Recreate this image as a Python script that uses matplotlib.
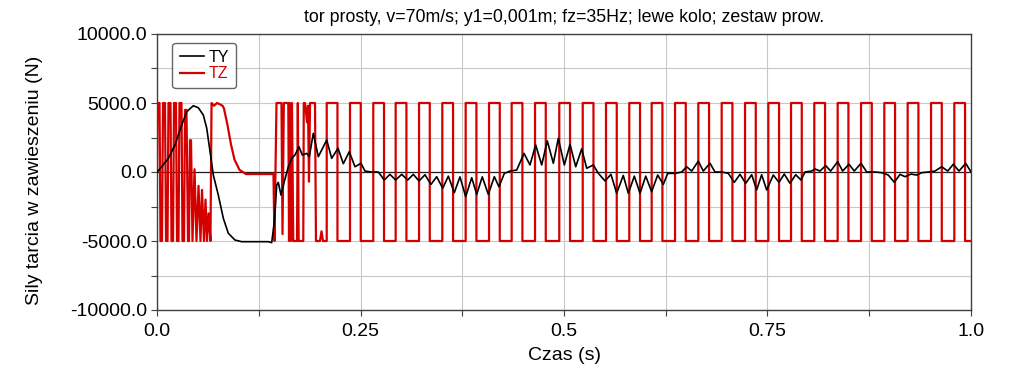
#!/usr/bin/env python3

"""
Siły tarcia w zawieszeniu - TY i TZ w funkcji czasu
"""

import matplotlib
matplotlib.use("Agg")
import matplotlib.pyplot as plt
from matplotlib.ticker import FixedLocator, FuncFormatter

# --- dane ---
# TY (czarna): punkty charakterystyczne (czas [s], wartość [N])
ty_t = [0.0000, 0.0058, 0.0139, 0.0221, 0.0303, 0.0365, 0.0446, 0.0507, 0.0569,
        0.0611, 0.0651, 0.0692, 0.0753, 0.0815, 0.0876, 0.0958, 0.1041, 0.1367,
        0.1409, 0.1441, 0.1471, 0.1490, 0.1523, 0.1564, 0.1613, 0.1655, 0.1695,
        0.1744, 0.1785, 0.1839, 0.1871, 0.1920, 0.1982, 0.2085, 0.2146, 0.2224,
        0.2289, 0.2362, 0.2432, 0.2506, 0.2555, 0.2629, 0.2719, 0.2792, 0.2862,
        0.2932, 0.3006, 0.3080, 0.3149, 0.3219, 0.3292, 0.3366, 0.3436, 0.3510,
        0.3579, 0.3652, 0.3722, 0.3792, 0.3866, 0.3928, 0.3996, 0.4070, 0.4144,
        0.4201, 0.4267, 0.4337, 0.4419, 0.4509, 0.4582, 0.4652, 0.4726, 0.4795,
        0.4869, 0.4930, 0.5004, 0.5074, 0.5144, 0.5217, 0.5279, 0.5360, 0.5422,
        0.5504, 0.5577, 0.5647, 0.5728, 0.5790, 0.5864, 0.5934, 0.6004, 0.6077,
        0.6151, 0.6220, 0.6274, 0.6364, 0.6446, 0.6507, 0.6569, 0.6650, 0.6711,
        0.6794, 0.6855, 0.6937, 0.7019, 0.7092, 0.7162, 0.7232, 0.7306, 0.7367,
        0.7428, 0.7490, 0.7571, 0.7641, 0.7706, 0.7776, 0.7846, 0.7912, 0.7961,
        0.8043, 0.8084, 0.8145, 0.8215, 0.8276, 0.8362, 0.8423, 0.8501, 0.8566,
        0.8649, 0.8719, 0.8821, 0.8903, 0.8984, 0.9058, 0.9128, 0.9189, 0.9263,
        0.9333, 0.9394, 0.9476, 0.9558, 0.9640, 0.9714, 0.9783, 0.9853, 0.9935,
        1.0000]
ty_v = [0, 380, 990, 1960, 3400, 4370, 4800, 4660, 4130,
        3170, 1470, -220, -1670, -3360, -4440, -4930, -5050, -5050,
        -5120, -3600, -940, -750, -1670, -700, 380, 990, 1230,
        1830, 1230, 1350, 1110, 2800, 1110, 2320, 990, 1720,
        600, 1470, 380, 630, 70, 0, 0, -580, -170,
        -580, -170, -580, -170, -650, -200, -900, -340, -1180,
        -300, -1500, -350, -1790, -410, -1620, -350, -1620, -340,
        -1070, -100, 70, 140, 1350, 510, 1960, 510, 2250,
        630, 2440, 510, 2000, 380, 1670, 270, 510, -100,
        -650, -170, -1540, -250, -1540, -300, -1540, -300, -1430,
        -220, -900, -100, -100, 0, 380, 70, 790, 70,
        630, 0, 0, -100, -750, -170, -820, -200, -1300,
        -200, -1300, -220, -750, -150, -820, -200, -580, 0,
        70, 220, 70, 460, 70, 750, 70, 560, 70,
        630, 0, 0, -50, -220, -750, -170, -340, -150,
        -220, -50, 0, 70, 380, 70, 560, 70, 630,
        0]

# TZ (czerwona): przebieg nieregularny na początku symulacji
tz_early_t = [0.0000, 0.0006, 0.0031, 0.0043, 0.0061, 0.0074, 0.0098, 0.0111, 0.0129,
              0.0141, 0.0166, 0.0178, 0.0197, 0.0209, 0.0233, 0.0246, 0.0264, 0.0276,
              0.0301, 0.0313, 0.0332, 0.0344, 0.0362, 0.0381, 0.0393, 0.0405, 0.0418,
              0.0436, 0.0461, 0.0485, 0.0510, 0.0534, 0.0553, 0.0577, 0.0596, 0.0614,
              0.0633, 0.0657, 0.0670, 0.0700, 0.0737, 0.0774, 0.0805, 0.0823, 0.0866,
              0.0909, 0.0952, 0.1014, 0.1093, 0.1431,
              0.1443, 0.1468, 0.1529, 0.1542, 0.1558, 0.1613, 0.1622, 0.1634,
              0.1646, 0.1658, 0.1674, 0.1720, 0.1730, 0.1740, 0.1797, 0.1803, 0.1818,
              0.1843, 0.1855, 0.1867, 0.1880, 0.1941, 0.1953, 0.2002, 0.2021, 0.2039,
              0.2085]
tz_early_v = [0, 5000, 5000, -5000, -5000, 5000, 5000, -5000, -5000,
              5000, 5000, -5000, -5000, 5000, 5000, -5000, -5000, 5000,
              5000, -5000, -5000, 4500, 4500, -5000, -5000, 2300, 2300,
              -5000, 200, -5000, -1000, -5000, -1300, -5000, -2000, -5000,
              -3000, -5000, 5000, 4800, 5000, 4900, 4800, 4600, 3400,
              2000, 900, 150, -150, -150,
              -5000, 5000, 5000, -4500, 5000, 5000, -5000, 5000,
              -5000, 5000, -5000, -5000, 5000, -5000, -5000, 5000, 5000,
              3600, 4800, -700, 5000, 5000, -5000, -5000, -4300, -5000,
              -5000]

# TZ: chwile narastania i opadania przebiegu prostokątnego (ok. 35 Hz)
tz_rise_t = [0.2085, 0.2371, 0.2657, 0.2932, 0.3219, 0.3505, 0.3792, 0.4079, 0.4357,
             0.4644, 0.4942, 0.5230, 0.5516, 0.5802, 0.6077, 0.6364, 0.6650, 0.6937,
             0.7224, 0.7510, 0.7789, 0.8075, 0.8362, 0.8649, 0.8935, 0.9222, 0.9509,
             0.9795]
tz_fall_t = [0.2217, 0.2503, 0.2789, 0.3064, 0.3351, 0.3637, 0.3924, 0.4211, 0.4489,
             0.4776, 0.5074, 0.5362, 0.5648, 0.5934, 0.6209, 0.6496, 0.6782, 0.7069,
             0.7356, 0.7642, 0.7921, 0.8207, 0.8494, 0.8781, 0.9067, 0.9354, 0.9641,
             0.9927]
tz_high = 5000
tz_low = -5000
t_end = 1.0

x_ticks = [0.0, 0.25, 0.5, 0.75, 1.0]
x_tick_labels = ["0.0", "0.25", "0.5", "0.75", "1.0"]
y_ticks = [-10000, -5000, 0, 5000, 10000]

title = "tor prosty, v=70m/s; y1=0,001m; fz=35Hz; lewe kolo; zestaw prow."


def build_tz():
    """Składa przebieg TZ z części nieregularnej i prostokątnej."""
    t = list(tz_early_t)
    v = list(tz_early_v)
    for r, f in zip(tz_rise_t, tz_fall_t):
        t += [r, r, f, f]
        v += [tz_low, tz_high, tz_high, tz_low]
    t.append(t_end)
    v.append(tz_low)
    return t, v


def plot_forces():
    plt.rcParams["font.family"] = ["Liberation Sans", "DejaVu Sans"]
    fig = plt.figure(figsize=(10.23, 3.75), dpi=100)
    ax = fig.add_axes([157 / 1023, 65 / 375, 814 / 1023, 276 / 375])

    tz_t, tz_v = build_tz()
    ax.plot(ty_t, ty_v, color="black", lw=1.2, label="TY", zorder=4)
    ax.plot(tz_t, tz_v, color="#d40000", lw=1.6, label="TZ", zorder=3)
    ax.axhline(0, color="#202020", lw=0.9, zorder=2)

    ax.set_xlim(0, 1.0)
    ax.set_ylim(-10000, 10000)
    ax.xaxis.set_major_locator(FixedLocator(x_ticks))
    ax.set_xticklabels(x_tick_labels)
    ax.xaxis.set_minor_locator(FixedLocator([0.125, 0.375, 0.625, 0.875]))
    ax.yaxis.set_major_locator(FixedLocator(y_ticks))
    ax.yaxis.set_minor_locator(FixedLocator([-7500, -2500, 2500, 7500]))
    ax.yaxis.set_major_formatter(FuncFormatter(lambda v, _: f"{v:.1f}"))
    ax.tick_params(which="both", direction="out", length=4, width=0.8,
                   color="#404040", labelsize=14)
    ax.tick_params(axis="x", which="major", pad=5)
    ax.tick_params(axis="y", which="major", pad=3)
    ax.tick_params(which="minor", labelbottom=False, labelleft=False)
    ax.grid(True, which="both", color="#c8c8c8", lw=0.8)
    ax.set_axisbelow(True)
    for sp in ax.spines.values():
        sp.set_color("#404040")
        sp.set_linewidth(1.0)

    leg = ax.legend(loc="upper left", bbox_to_anchor=(0.019, 0.9685),
                    borderaxespad=0, fontsize=11.5, handlelength=1.5,
                    handletextpad=0.3, borderpad=0.45, labelspacing=0.08,
                    fancybox=True, labelcolor="linecolor")
    leg.get_frame().set_edgecolor("#404040")
    leg.get_frame().set_linewidth(1.0)

    fig.text(564 / 1023, 1 - 17 / 375, title, ha="center", va="center", fontsize=12.8)
    fig.text(35 / 1023, 1 - 180 / 375, "Sily tarcia w zawieszeniu (N)",
             rotation=90, ha="center", va="center", fontsize=14)
    fig.text(564 / 1023, 1 - 356 / 375, "Czas (s)", ha="center", va="center",
             fontsize=14)

    fig.savefig("out.png", dpi=100)


if __name__ == "__main__":
    plot_forces()
